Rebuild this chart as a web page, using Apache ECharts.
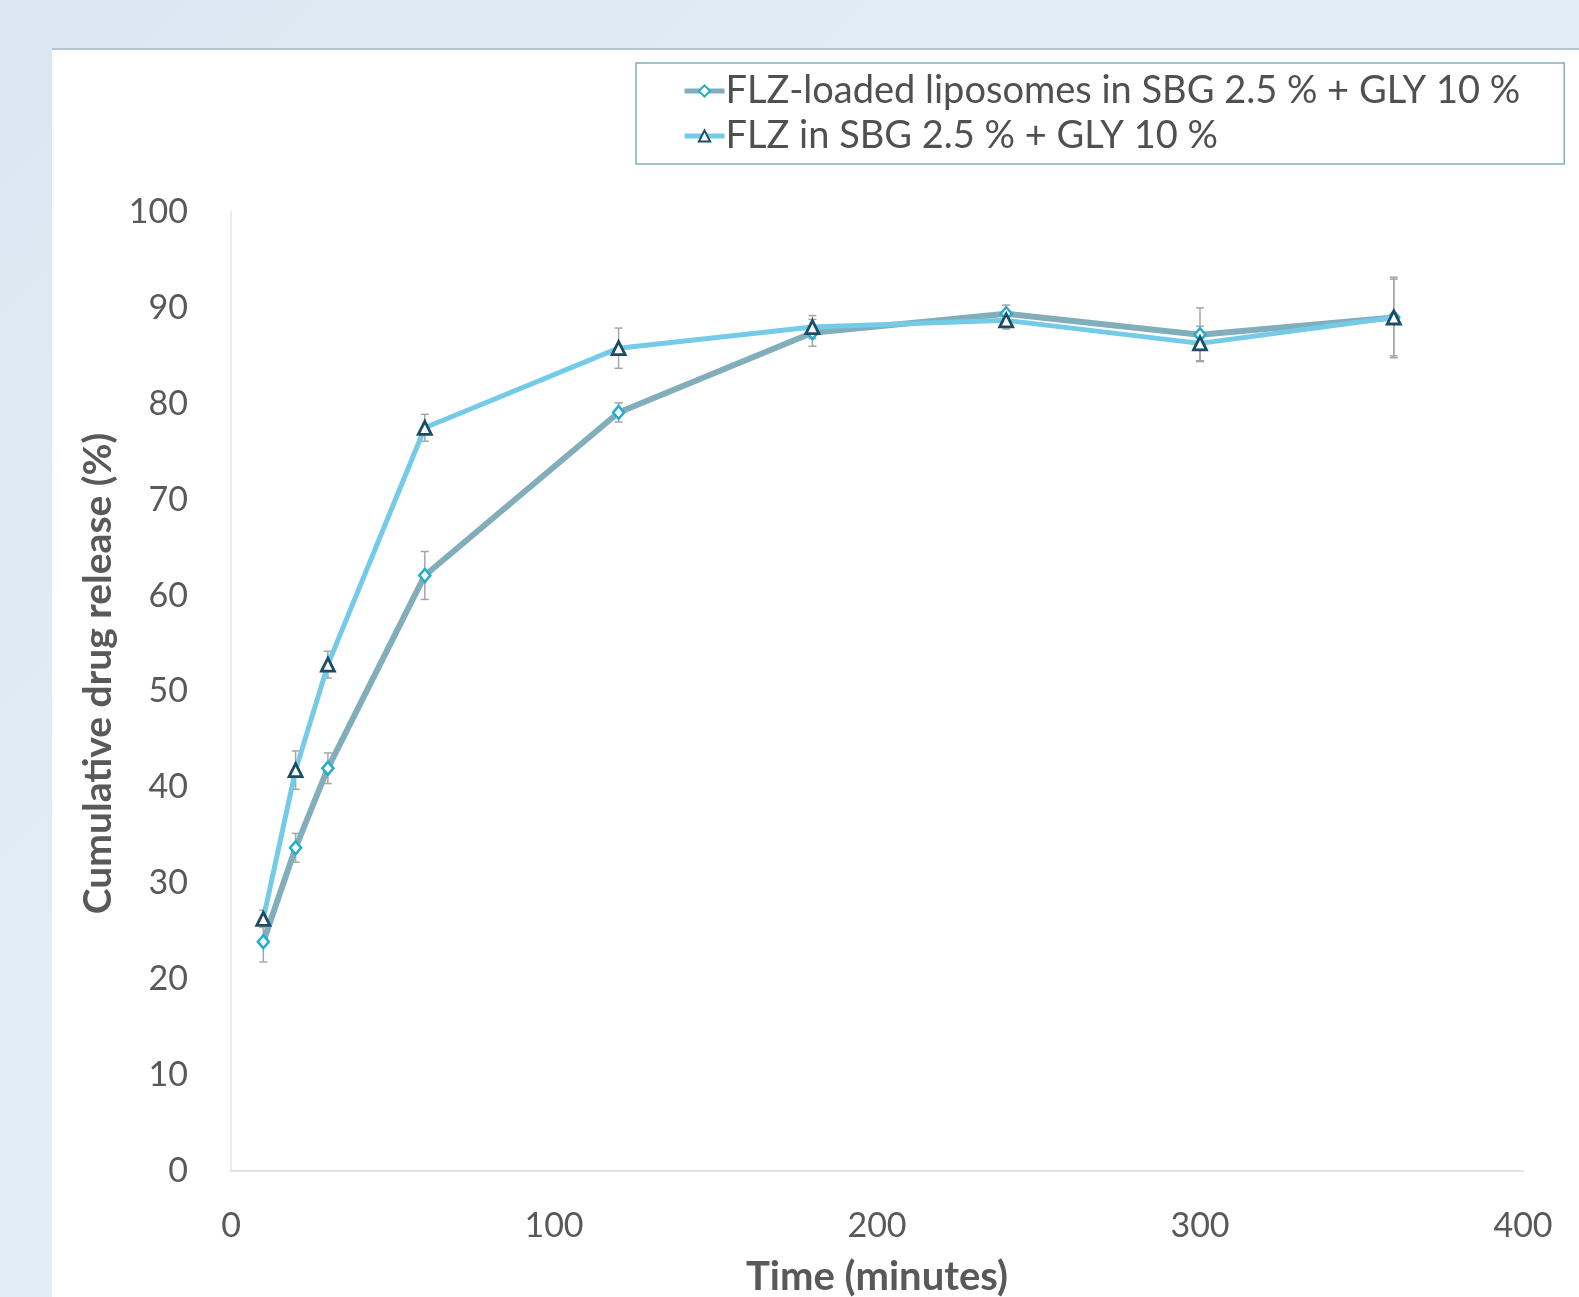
<!DOCTYPE html>
<html>
<head>
<meta charset="utf-8">
<script src="https://cdn.jsdelivr.net/npm/echarts@6/dist/echarts.min.js"></script>
<style>
  html, body { margin: 0; padding: 0; }
  body {
    width: 1579px; height: 1297px; overflow: hidden; position: relative;
    background: linear-gradient(135deg, #dae7f2 0%, #e3edf5 40%, #e6eef5 100%);
  }
  #panel {
    position: absolute; left: 52px; top: 48px; right: 0; bottom: 0;
    background: #fff; border-top: 2px solid #b6c4ce;
  }
  #chart { position: absolute; left: 0; top: 0; width: 1579px; height: 1297px; }
</style>
</head>
<body>
<div id="panel"></div>
<div id="chart"></div>
<script>
// time points (minutes)
const times = [10, 20, 30, 60, 120, 180, 240, 300, 360];

// FLZ-loaded liposomes in SBG 2.5 % + GLY 10 %
const liposomes = [23.9, 33.7, 42.0, 62.1, 79.1, 87.4, 89.4, 87.2, 89.0];
const liposomesErr = [2.1, 1.5, 1.6, 2.5, 1.0, 1.4, 0.9, 2.8, 4.2];

// FLZ in SBG 2.5 % + GLY 10 %
const freeDrug = [26.3, 41.8, 52.8, 77.5, 85.8, 88.0, 88.7, 86.3, 89.0];
const freeDrugErr = [0.9, 2.0, 1.4, 1.4, 2.1, 1.2, 0.9, 1.8, 4.0];

const seriesNames = ['FLZ-loaded liposomes in SBG 2.5 % + GLY 10 %', 'FLZ in SBG 2.5 % + GLY 10 %'];
const lineColors = ['#82aebc', '#74cbe8'];

const FONT = 'Lato';

function errorBars(vals, errs) {
  return {
    type: 'custom',
    silent: true,
    z: 1,
    encode: { x: 0, y: [1, 2] },
    data: times.map((t, i) => [t, vals[i] - errs[i], vals[i] + errs[i]]),
    renderItem: function (params, api) {
      const x = api.value(0);
      const lo = api.coord([x, api.value(1)]);
      const hi = api.coord([x, api.value(2)]);
      const w = 4;
      const style = { stroke: '#a6a6a6', lineWidth: 1.5 };
      return {
        type: 'group',
        children: [
          { type: 'line', shape: { x1: lo[0], y1: lo[1], x2: hi[0], y2: hi[1] }, style: style },
          { type: 'line', shape: { x1: hi[0] - w, y1: hi[1], x2: hi[0] + w, y2: hi[1] }, style: style },
          { type: 'line', shape: { x1: lo[0] - w, y1: lo[1], x2: lo[0] + w, y2: lo[1] }, style: style }
        ]
      };
    }
  };
}

const chart = echarts.init(document.getElementById('chart'));
const option = {
  backgroundColor: 'transparent',
  animation: false,
  grid: { left: 231, right: 56, top: 212, bottom: 126, outerBoundsMode: 'none' },
  legend: {
    orient: 'vertical',
    left: 636,
    top: 63,
    padding: [9, 44, 9, 46],
    itemGap: 7,
    itemWidth: 40,
    itemHeight: 14,
    borderColor: '#7eb0c0',
    borderWidth: 1.5,
    data: seriesNames.map((n, i) => ({ name: n, lineStyle: { width: 5, color: lineColors[i] } })),
    textStyle: { fontFamily: FONT, fontSize: 38, color: '#505050', padding: [0, 0, 0, -4] }
  },
  xAxis: {
    type: 'value',
    min: 0, max: 400, interval: 100,
    name: 'Time (minutes)',
    nameLocation: 'middle',
    nameGap: 86,
    nameTextStyle: { fontFamily: FONT, fontSize: 40, fontWeight: 'bold', color: '#595959' },
    axisLine: { show: true, lineStyle: { color: '#e3e3e3', width: 2 } },
    axisTick: { show: false },
    splitLine: { show: false },
    axisLabel: { fontFamily: FONT, fontSize: 34, color: '#595959', margin: 38 }
  },
  yAxis: {
    type: 'value',
    min: 0, max: 100, interval: 10,
    name: 'Cumulative drug release (%)',
    nameLocation: 'middle',
    nameGap: 112,
    nameTextStyle: { fontFamily: FONT, fontSize: 39, fontWeight: 'bold', color: '#595959', padding: [0, 0, 0, 36] },
    axisLine: { show: true, lineStyle: { color: '#ececec', width: 2 } },
    axisTick: { show: false },
    splitLine: { show: false },
    axisLabel: { fontFamily: FONT, fontSize: 34, color: '#595959', margin: 43 }
  },
  series: [
    errorBars(liposomes, liposomesErr),
    errorBars(freeDrug, freeDrugErr),
    {
      name: seriesNames[0],
      type: 'line',
      z: 3,
      data: times.map((t, i) => [t, liposomes[i]]),
      symbol: 'diamond',
      symbolSize: [11, 13],
      lineStyle: { color: lineColors[0], width: 6 },
      itemStyle: { color: '#ffffff', borderColor: '#22acd2', borderWidth: 2.5 }
    },
    {
      name: seriesNames[1],
      type: 'line',
      z: 4,
      data: times.map((t, i) => [t, freeDrug[i]]),
      symbol: 'triangle',
      symbolSize: 13,
      lineStyle: { color: lineColors[1], width: 5 },
      itemStyle: { color: '#ffffff', borderColor: '#1c4c66', borderWidth: 2.8 }
    }
  ]
};
chart.setOption(option);
</script>
</body>
</html>
